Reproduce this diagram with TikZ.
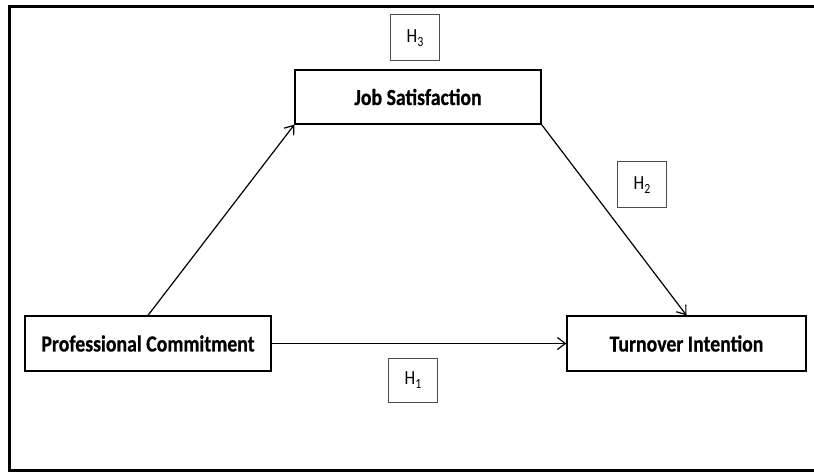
\documentclass[tikz,border=0pt]{standalone}
\usepackage{fontspec}
\setmainfont{Carlito}
\newfontfamily\labfont[FakeStretch=0.86,FakeBold=0.6]{Carlito}
\newfontfamily\hfont[FakeStretch=0.85]{Carlito}
\usetikzlibrary{arrows.meta}
\newcommand{\hlab}[1]{H\raisebox{-3.5pt}{\fontsize{14}{16}\selectfont #1}}
\tikzset{
  mainbox/.style={draw=black, line width=1.3pt, font=\labfont\fontsize{23}{26}\selectfont\bfseries, inner sep=0pt, anchor=center},
  hbox/.style={draw=black!70, line width=1pt, font=\hfont\fontsize{20}{22}\selectfont, inner sep=0pt, minimum width=49pt},
  arr/.style={line width=1.2pt, -{Straight Barb[length=8pt,width=12pt,line width=1.2pt]}},
  frame/.style={line width=2.6pt, line join=miter}
}
\begin{document}
\begin{tikzpicture}[x=1pt,y=-1pt]
\useasboundingbox (0,0) rectangle (814,473);
\fill[white] (0,0) rectangle (814,473);
\begin{scope}
\clip (0,0) rectangle (814,473);
\draw[frame] (830,6.5) -- (9.5,6.5) -- (9.5,470.5) -- (830,470.5);
\end{scope}
\node[mainbox, minimum width=246pt, minimum height=54pt] (js) at (418,97) {Job Satisfaction};
\node[mainbox, minimum width=246pt, minimum height=55pt] (pc) at (148,343.5) {Professional Commitment};
\node[mainbox, minimum width=239pt, minimum height=55pt] (ti) at (686.5,343.5) {Turnover Intention};
\node[hbox, minimum height=46pt] (h3) at (415,38) {\hlab{3}};
\node[hbox, minimum height=46pt] (h2) at (642,185) {\hlab{2}};
\node[hbox, minimum height=44pt] (h1) at (413,380) {\hlab{1}};
\draw[arr] (pc.north) -- (js.south west);
\draw[arr] (js.south east) -- (ti.north);
\draw[arr] (pc.east) -- (ti.west);
\end{tikzpicture}
\end{document}
